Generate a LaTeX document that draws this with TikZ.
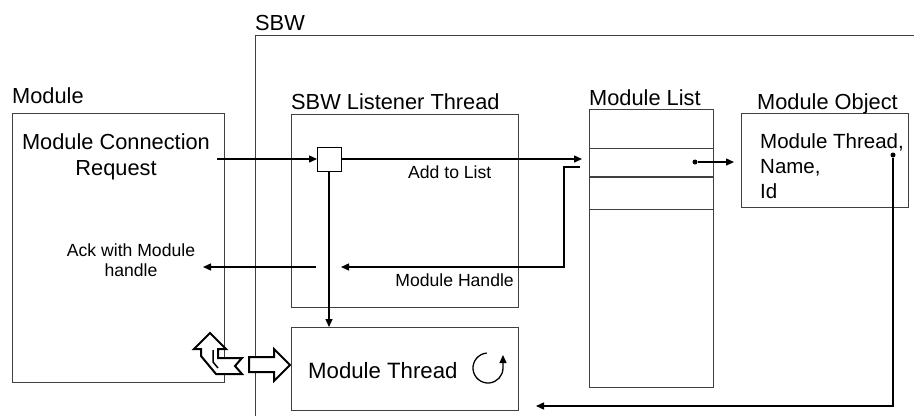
\documentclass[tikz,border=0pt]{standalone}
\usepackage{fontspec}
\setmainfont{Liberation Sans}
\usetikzlibrary{arrows.meta}
\tikzset{
  frame/.style={draw=black!75, line width=1pt, inner sep=0pt, outer sep=0pt, anchor=north west},
  link/.style={draw=black, line width=1.4pt, -{Triangle[length=8pt,width=7pt]}},
  big/.style={font=\fontsize{21.8}{26}\selectfont, inner sep=0pt},
  small/.style={font=\fontsize{17.6}{20}\selectfont, inner sep=0pt},
  hollow/.style={draw=black, line width=2pt, fill=white, line join=miter},
  dot/.style={circle, fill=black, inner sep=0pt, minimum size=5pt}
}
\begin{document}
\begin{tikzpicture}[x=1pt, y=-1pt]
\useasboundingbox (0,0) rectangle (914,416);

% SBW enclosure (open on the right and at the bottom)
\draw[black!75, line width=1pt] (255,416) -- (255,35) -- (914,35);
\node[big, anchor=base west] (sbwlabel) at (255,30) {SBW};

% Module side
\node[frame, minimum width=212pt, minimum height=269pt] (module) at (12,113) {};
\node[big, anchor=base west] (modlabel) at (12,103) {Module};
\node[big, align=center, anchor=north] (request) at (116,133) {Module Connection\\Request};
\node[small, align=center, anchor=north] (ack) at (131,244) {Ack with Module\\handle};

% Listener thread
\node[frame, minimum width=227pt, minimum height=193pt] (listener) at (291,114) {};
\node[big, anchor=base west] (lislabel) at (291,109) {SBW Listener Thread};
\node[frame, draw=black, line width=1pt, minimum size=24pt] (sq) at (317,147) {};
\node[small, anchor=base west] (addlabel) at (408,178) {Add to List};
\node[small, anchor=base east] (handlelabel) at (514,286) {Module Handle};

% Module thread with its loop symbol
\node[frame, minimum width=227pt, minimum height=83pt] (mthread) at (291,327) {};
\node[big, anchor=base west, font=\fontsize{22.2}{26}\selectfont] (mtlabel) at (308,378) {Module Thread};
\draw[black, line width=1.3pt, -{Triangle[length=8pt,width=7pt]}]
  (488,368) ++(95:15pt) arc[start angle=95, end angle=360, radius=15pt] -- ++(0,-13);

% Module list
\node[frame, minimum width=124pt, minimum height=278pt] (mlist) at (589,109) {};
\draw[black!75, line width=1pt] (589,148) -- (713,148);
\draw[black!75, line width=1.3pt] (589,177) -- (713,177);
\draw[black!75, line width=1pt] (589,209) -- (713,209);
\node[big, anchor=base west] (listlabel) at (589,105) {Module List};

% Module object
\node[frame, minimum width=167pt, minimum height=94pt] (mobject) at (741,113) {};
\node[big, anchor=base west] (objlabel) at (757,109) {Module Object};
\node[big, align=left, anchor=north west, font=\fontsize{20.5}{25}\selectfont] (objtext) at (760,133) {Module Thread,\\Name,\\Id};

% Connectors
\coordinate (reqout) at (217,159);
\coordinate (listin) at (582,159);
\node[dot] (entry) at (695,162) {};
\coordinate (objin) at (734,162);
\coordinate (listout) at (580,167);
\coordinate (handlein) at (341,267);
\coordinate (ackfrom) at (316,267);
\coordinate (ackto) at (203,267);
\node[dot] (objdot) at (893,155) {};
\coordinate (threadin) at (536,406);

\draw[link] (reqout) -- (sq.west);
\draw[link] (sq.east) -- (listin);
\draw[link] (entry) -- (objin);
\draw[link] (listout) -- (564,167) |- (handlein);
\draw[link] (ackfrom) -- (ackto);
\draw[link] (sq.south) -- (mthread.north -| sq.south);
\draw[link] (objdot) |- (threadin);

% Block arrows between module and module thread
\draw[hollow] (249,357) -- (274,357) -- (274,349) -- (290,365) -- (274,381) -- (274,372) -- (249,372) -- cycle;
\draw[hollow] (210,333) -- (226,349) -- (218,349) -- (218,358) -- (242,358) -- (235,366) -- (242,374)
  -- (216,374) -- (201,356) -- (201,349) -- (194,349) -- cycle;
\draw[black, line width=1.5pt] (213,350) -- (213,362) -- (218,368);
\end{tikzpicture}
\end{document}
